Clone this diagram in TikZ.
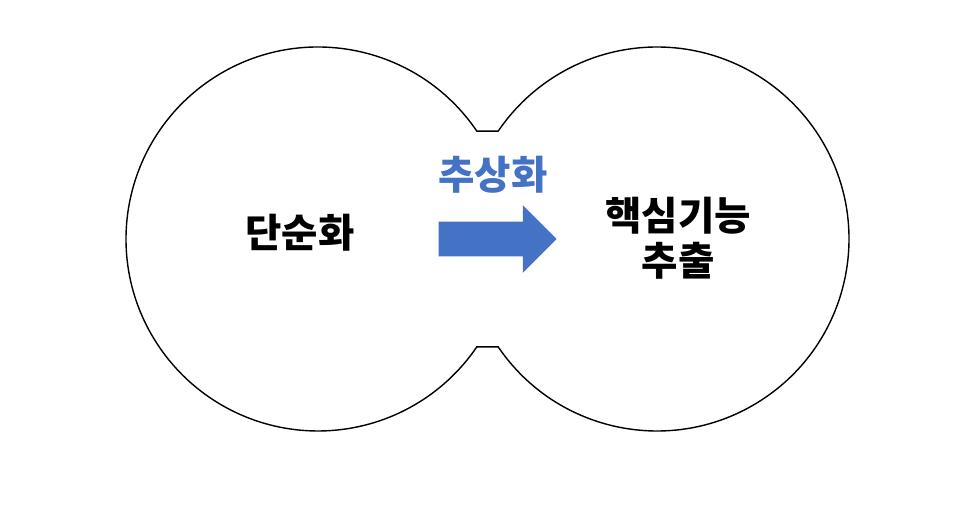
\documentclass[tikz,border=0pt]{standalone}
\usepackage{fontspec}
\setmainfont{Noto Sans CJK KR}
\usetikzlibrary{calc, shapes.arrows, positioning}
\definecolor{accblue}{HTML}{4472C4}

\begin{document}
\begin{tikzpicture}[x=0.02cm, y=0.02cm,
  label/.style={font=\fontsize{22.5}{25.5}\selectfont\bfseries, align=center, inner sep=0pt},
  blockarrow/.style={single arrow, fill=accblue, draw=none, inner xsep=0pt, inner ysep=0.34cm,
    minimum height=2.36cm, single arrow head extend=0.33cm}]
  \useasboundingbox (0,0) rectangle (961,506);
  % --- circle centres ---
  \coordinate (lc) at (318,267);
  \coordinate (rc) at (657,267);
  % --- joined outline ---
  \draw[thick] (lc) ++(34.2:192) arc[start angle=34.2, end angle=325.8, radius=192]
    -- ($(rc)+(214.2:192)$) arc[start angle=214.2, end angle=505.8, radius=192] -- cycle;
  % --- texts ---
  \node[label] (simple) at (300,273) {단순화};
  \node[label] (core) at (678,268) {핵심기능\\추출};
  \node[blockarrow] (arr) at (489,267) {};
  \node[label, text=accblue] (abstr) at (493,331) {추상화};
\end{tikzpicture}
\end{document}
